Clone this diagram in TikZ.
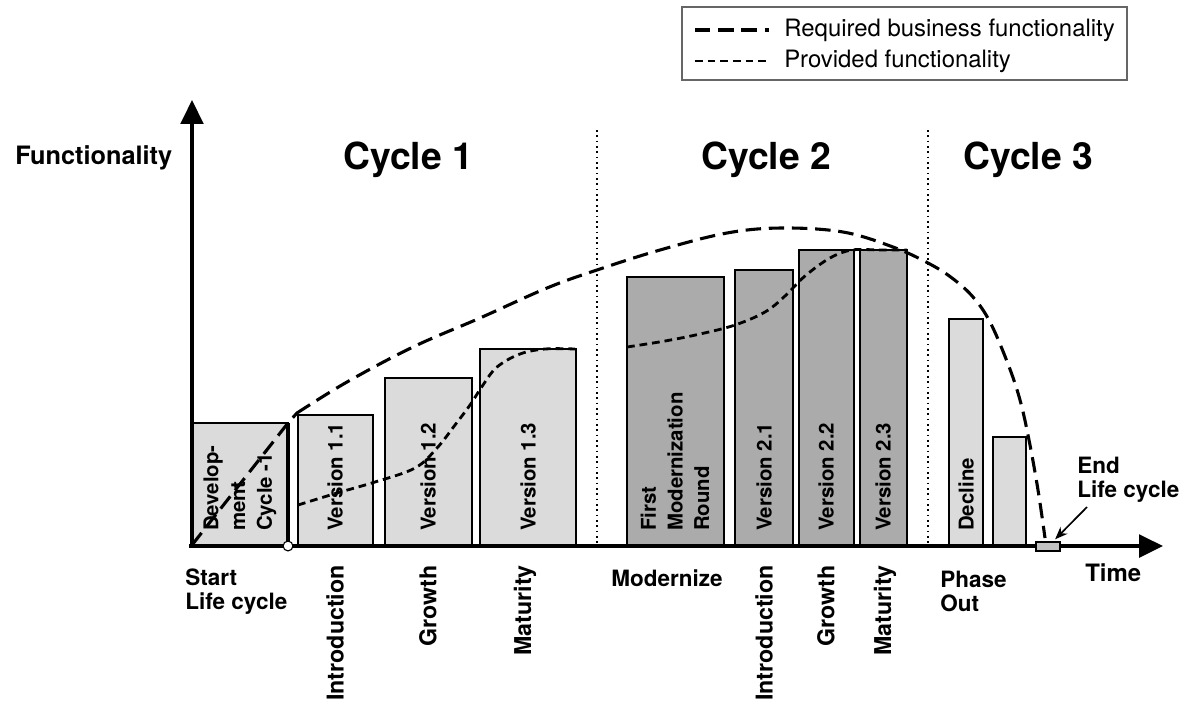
\documentclass[tikz,border=0pt]{standalone}
\usepackage{fontspec}
\setmainfont{TeX Gyre Heros}
\usepackage{tikz}
\usetikzlibrary{arrows.meta}
\definecolor{barlight}{gray}{0.86}
\definecolor{bardark}{gray}{0.67}
\definecolor{boxgray}{gray}{0.76}

\begin{document}
\begin{tikzpicture}[x=0.025cm,y=-0.025cm,
	lightbar/.style={fill=barlight,draw=black,line width=1.2pt},
	darkbar/.style={fill=bardark,draw=black,line width=1.2pt},
	barlabel/.style={rotate=90,anchor=west,inner sep=0pt,align=left,font=\fontsize{14.5}{19}\selectfont\bfseries},
	phaselabel/.style={rotate=90,anchor=east,inner sep=0pt,font=\fontsize{16.5}{20}\selectfont\bfseries},
	plainlabel/.style={inner sep=0pt,align=left,font=\fontsize{16}{17}\selectfont\bfseries},
	cyclelabel/.style={inner sep=0pt,font=\fontsize{26.5}{30}\selectfont\bfseries},
	legendtext/.style={anchor=west,inner sep=0pt,font=\fontsize{17}{20}\selectfont},
	required/.style={line width=2.2pt,dash pattern=on 11pt off 5.5pt},
	provided/.style={line width=2pt,dash pattern=on 5.5pt off 3.5pt},
	divider/.style={dash pattern=on 1.2pt off 2.6pt},
	axis/.style={line width=2.8pt,-{Triangle[length=17pt,width=16pt]}}]
	\useasboundingbox (0,0) rectangle (1183,706);
	
	% legend
	\draw[draw=black!60,line width=1pt] (682,7) rectangle (1127,80);
	\coordinate (reqa) at (695,30);
	\coordinate (reqb) at (769,30);
	\coordinate (prova) at (695,61);
	\coordinate (provb) at (769,61);
	\draw[required] (reqa) -- (reqb);
	\draw[provided] (prova) -- (provb);
	\node[legendtext] (reqtxt) at (784,30) {Required business functionality};
	\node[legendtext] (provtxt) at (784,61) {Provided functionality};
	
	% bars
	\draw[lightbar] (193,423) rectangle (288,546);
	\draw[line width=2.2pt] (288,423) -- (288,546);
	\draw[lightbar] (298,415) rectangle (373,546);
	\draw[lightbar] (385,378) rectangle (472,546);
	\draw[lightbar] (480,349) rectangle (576,546);
	\draw[darkbar] (627,277) rectangle (724,546);
	\draw[darkbar] (735,270) rectangle (793,546);
	\draw[darkbar] (799,250) rectangle (854,546);
	\draw[darkbar] (860,250) rectangle (907,546);
	\draw[lightbar] (949,319) rectangle (983,546);
	\draw[lightbar] (993,437) rectangle (1026,546);
	
	\node[barlabel] (dev) at (240,531) {Develop-\\ment\\Cycle -1};
	\node[barlabel] (v11) at (335,531) {Version 1.1};
	\node[barlabel] (v12) at (428,531) {Version 1.2};
	\node[barlabel] (v13) at (528,531) {Version 1.3};
	\node[barlabel] (fmr) at (675,531) {First\\Modernization\\Round};
	\node[barlabel] (v21) at (764,531) {Version 2.1};
	\node[barlabel] (v22) at (826,531) {Version 2.2};
	\node[barlabel] (v23) at (883,531) {Version 2.3};
	\node[barlabel] (decl) at (966,531) {Decline};
	
	% cycle borders
	\draw[divider,line width=1pt] (597,130) -- (597,545);
	\draw[divider,line width=1.6pt] (928,130) -- (928,545);
	
	% functionality curves
	\draw[required] (192,545) -- (288,423) -- (297,413)
	plot[smooth,tension=0.6] coordinates {(297,413) (347,382) (413,347) (480,318) (547,288) (597,270) (660,250) (727,233) (782,228) (843,232) (893,247) (928,263) (952,278) (973,297) (990,322) (1008,364) (1020,400) (1029,440) (1038,490) (1045,538)};
	\draw[provided] plot[smooth,tension=0.6] coordinates {(298,505) (337,493) (375,482) (415,468) (437,448) (455,425) (470,405) (483,385) (497,367) (520,354) (545,349) (575,349)};
	\draw[provided] plot[smooth,tension=0.6] coordinates {(627,347) (665,341) (700,334) (735,325) (765,312) (785,296) (805,276) (830,258) (852,250) (880,250) (907,250)};
	
	% axes
	\coordinate (origin) at (192,546);
	\coordinate (ytip) at (192,100);
	\coordinate (xstart) at (189,546);
	\coordinate (xtip) at (1163,546);
	\draw[axis] (origin) -- (ytip);
	\draw[axis] (xstart) -- (xtip);
	\draw[fill=white,line width=0.8pt] (288,546) circle[radius=3.5pt];
	\node[draw=black,fill=boxgray,line width=0.9pt,minimum width=17pt,minimum height=6.5pt,inner sep=0pt] (endbox) at (1048,546.5) {};
	
	% labels
	\node[plainlabel,anchor=west,font=\fontsize{18}{20}\selectfont\bfseries] (funct) at (15,158) {Functionality};
	\node[cyclelabel] (cyc1) at (408,160) {Cycle 1};
	\node[cyclelabel] (cyc2) at (766,160) {Cycle 2};
	\node[cyclelabel] (cyc3) at (1028,160) {Cycle 3};
	
	\node[plainlabel,anchor=north west] (start) at (185,569) {Start\\Life cycle};
	\node[phaselabel] (intro1) at (335,565) {Introduction};
	\node[phaselabel] (grow1) at (428,565) {Growth};
	\node[phaselabel] (mat1) at (525,565) {Maturity};
	\node[plainlabel,anchor=west] (modern) at (611,578) {Modernize};
	\node[phaselabel] (intro2) at (764,565) {Introduction};
	\node[phaselabel] (grow2) at (826,565) {Growth};
	\node[phaselabel] (mat2) at (885,565) {Maturity};
	\node[plainlabel,anchor=north west] (phase) at (940,571) {Phase\\Out};
	\node[plainlabel,anchor=west,font=\fontsize{17}{20}\selectfont\bfseries] (time) at (1085,573) {Time};
	\node[plainlabel,anchor=north west] (endlbl) at (1077,457) {End\\Life cycle};
	
	\coordinate (endtail) at (1087,507);
	\draw[line width=1.2pt,-{Stealth[length=9pt,width=7pt]},shorten >=2pt] (endtail) -- (endbox);
\end{tikzpicture}
\end{document}
